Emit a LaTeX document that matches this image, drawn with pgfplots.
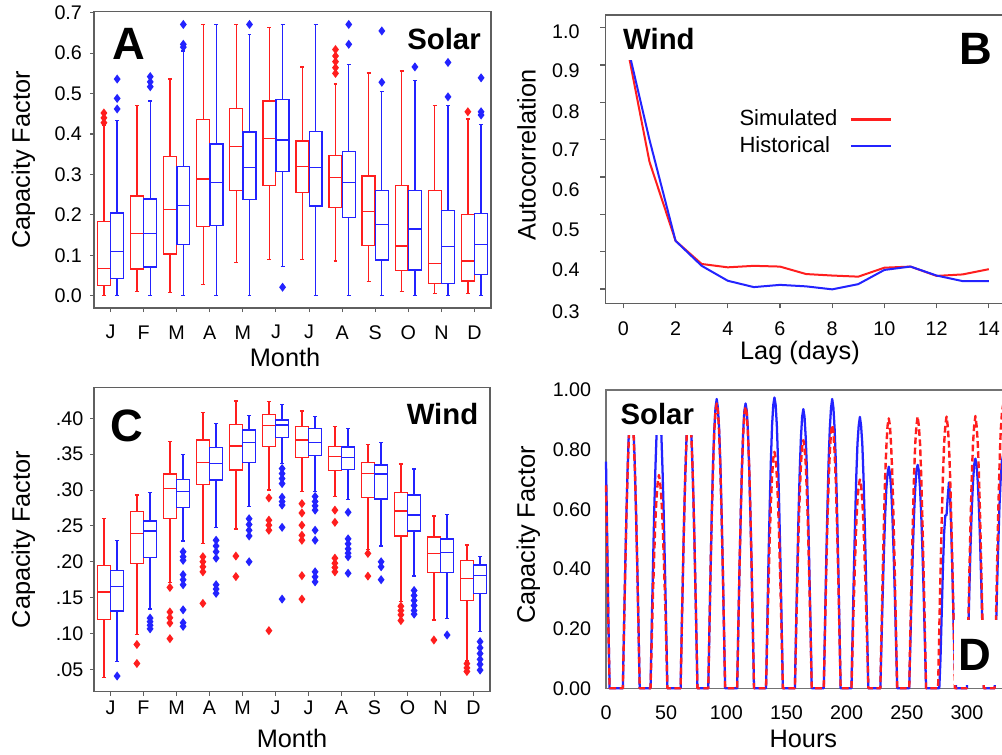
\documentclass[border=0pt]{standalone}
\usepackage{fontspec}
\setmainfont{Liberation Sans}
\usepackage{pgfplots}
\pgfplotsset{compat=1.18}
\usepgfplotslibrary{statistics}

\definecolor{simred}{RGB}{255,30,30}
\definecolor{histblue}{RGB}{35,35,255}
\definecolor{axgray}{RGB}{95,95,95}

\newcommand{\ticksize}{\fontsize{14.8}{16}\selectfont}
\newcommand{\labsize}{\fontsize{19}{22}\selectfont}
\newcommand{\tagfont}{\bfseries\fontsize{22}{24}\selectfont}
\newcommand{\bigtag}{\bfseries\fontsize{34}{36}\selectfont}
% tick label moved off its tick mark by a fixed amount
\newcommand{\lab}[2]{\raisebox{#1}[0pt][0pt]{#2}}
% one pre-computed box: colour, position, whiskers, quartiles, median; outliers follow
\newcommand{\bp}[7]{\addplot[#1,boxplot prepared={draw position=#2,lower whisker=#3,lower quartile=#4,median=#5,upper quartile=#6,upper whisker=#7}] coordinates}

\pgfplotsset{
  panel/.style={scale only axis, anchor=north west,
    axis line style={axgray,line width=0.9pt},
    tick style={axgray,line width=0.8pt}, tick align=outside, major tick length=3pt,
    xtick pos=left, ytick pos=left,
    tick label style={font=\ticksize}},
  monthbox/.style={xmin=0.5,xmax=12.5,xtick={1,...,12},
    xticklabels={J,F,M,A,M,J,J,A,S,O,N,D},
    boxplot/draw direction=y,
    boxplot/box extend=0.39, boxplot/whisker extend=0.12,
    boxplot/every box/.append style={line width=1pt},
    boxplot/every whisker/.append style={line width=1pt},
    boxplot/every median/.append style={line width=1pt},
    every axis plot/.append style={line width=1pt, mark=diamond*, mark size=2.6pt, mark options={solid}},
    xlabel={Month}, ylabel={Capacity Factor}},
}

\begin{document}
\begin{tikzpicture}
\useasboundingbox (0,0) rectangle (751.5pt,-565.5pt);
\clip (0,0) rectangle (751.5pt,-565.5pt);

%% ---------------- A: monthly solar capacity factor ----------------
\begin{axis}[panel, monthbox, at={(70.5pt,-8.8pt)}, width=297.75pt, height=222.2pt,
  ymin=-0.0304, ymax=0.7025,
  ytick={0,0.1,0.2,0.3,0.4,0.5,0.6,0.7},
  yticklabels={0.0,0.1,0.2,0.3,0.4,0.5,0.6,0.7},
  xticklabel style={anchor=center, yshift=-15.2pt},
  yticklabel style={anchor=east, xshift=-2.5pt},
  every axis x label/.style={at={(rel axis cs:0.5,0)}, anchor=center, font=\labsize, xshift=-5.6pt, yshift=-37pt},
  every axis y label/.style={at={(rel axis cs:0,0.5)}, anchor=center, font=\labsize, xshift=-53pt, rotate=90}]
% simulated
\bp{simred}{0.8}{0}{0.025}{0.068}{0.183}{0.422} {(0,0.452)(0,0.440)(0,0.428)};
\bp{simred}{1.8}{0.010}{0.066}{0.154}{0.247}{0.470} {};
\bp{simred}{2.8}{0.008}{0.103}{0.214}{0.344}{0.536} {};
\bp{simred}{3.8}{0.028}{0.171}{0.289}{0.436}{0.671} {};
\bp{simred}{4.8}{0.082}{0.261}{0.369}{0.463}{0.671} {};
\bp{simred}{5.8}{0.090}{0.273}{0.389}{0.482}{0.664} {};
\bp{simred}{6.8}{0.090}{0.255}{0.320}{0.383}{0.566} {};
\bp{simred}{7.8}{0.086}{0.219}{0.292}{0.347}{0.524} {(0,0.609)(0,0.593)(0,0.579)(0,0.564)(0,0.550)};
\bp{simred}{8.8}{0.035}{0.124}{0.208}{0.296}{0.551} {};
\bp{simred}{9.8}{0.010}{0.062}{0.123}{0.273}{0.556} {};
\bp{simred}{10.8}{0.005}{0.030}{0.080}{0.261}{0.470} {};
\bp{simred}{11.8}{0.005}{0.036}{0.086}{0.201}{0.437} {(0,0.455)};
% historical
\bp{histblue}{1.2}{0}{0.043}{0.109}{0.205}{0.434} {(0,0.536)(0,0.488)(0,0.462)};
\bp{histblue}{2.2}{0}{0.071}{0.154}{0.239}{0.482} {(0,0.542)(0,0.529)(0,0.517)};
\bp{histblue}{3.2}{0}{0.127}{0.223}{0.320}{0.605} {(0,0.615)(0,0.622)(0,0.671)};
\bp{histblue}{4.2}{0}{0.173}{0.280}{0.375}{0.671} {};
\bp{histblue}{5.2}{0}{0.238}{0.317}{0.405}{0.647} {(0,0.671)};
\bp{histblue}{6.2}{0.072}{0.307}{0.385}{0.486}{0.671} {(0,0.021)};
\bp{histblue}{7.2}{0}{0.222}{0.318}{0.407}{0.671} {};
\bp{histblue}{8.2}{0}{0.194}{0.280}{0.356}{0.572} {(0,0.622)(0,0.671)};
\bp{histblue}{9.2}{0}{0.088}{0.177}{0.261}{0.505} {(0,0.528)(0,0.655)};
\bp{histblue}{10.2}{0}{0.064}{0.165}{0.261}{0.533} {(0,0.566)};
\bp{histblue}{11.2}{0}{0.031}{0.122}{0.211}{0.470} {(0,0.492)(0,0.577)};
\bp{histblue}{12.2}{0}{0.053}{0.127}{0.204}{0.424} {(0,0.447)(0,0.455)(0,0.539)};
\fill[white] (axis cs:10.3,0.577) rectangle (axis cs:12.45,0.695);
\node[font=\bigtag] at (axis cs:1.54,0.6225) {A};
\node[font=\tagfont] at (axis cs:11.08,0.634) {Solar};
\end{axis}

%% ---------------- B: wind autocorrelation ----------------
\begin{axis}[panel, at={(454pt,-11.25pt)}, width=301.3pt, height=216.2pt,
  xmin=-0.69, xmax=14.7, ymin=0.2617, ymax=1.034,
  major tick length=3.75pt,
  xtick={0,2,4,6,8,10,12,14}, xticklabels={0,2,4,6,8,10,12,14},
  ytick={0.3,0.4,0.5,0.6,0.7,0.8,0.9,1.0},
  yticklabels={\lab{-22.3pt}{0.3},\lab{-18.6pt}{0.4},\lab{-16.55pt}{0.5},\lab{-14.8pt}{0.6},\lab{-12.8pt}{0.7},\lab{-12.05pt}{0.8},\lab{-9.05pt}{0.9},\lab{-7.8pt}{1.0}},
  xticklabel style={anchor=center, yshift=-15pt},
  yticklabel style={anchor=east, xshift=-12pt},
  xlabel={Lag (days)}, ylabel={Autocorrelation},
  every axis x label/.style={at={(rel axis cs:0.5,0)}, anchor=center, font=\labsize, xshift=-4.7pt, yshift=-37pt},
  every axis y label/.style={at={(rel axis cs:0,0.5)}, anchor=center, font=\labsize, xshift=-59pt, yshift=3.2pt, rotate=90},
  legend plot pos=right, legend cell align=left,
  legend image code/.code={\draw[#1, line width=2.2pt] (0pt,0pt) -- (30.5pt,0pt);},
  legend style={at={(axis cs:4.44,0.782)}, anchor=north west, draw=none, fill=none,
    inner sep=0pt, font=\fontsize{16.5}{18}\selectfont, column sep=9pt, row sep=5pt,
    nodes={inner sep=0pt, text height=12pt, text depth=3pt}}]
\addplot[simred, line width=1.5pt] coordinates {
 (0,1.0)(1,0.641)(2,0.429)(3,0.367)(4,0.358)(5,0.362)(6,0.360)(7,0.340)
 (8,0.336)(9,0.333)(10,0.357)(11,0.360)(12,0.335)(13,0.339)(14,0.353)};
\addlegendentry{Simulated}
\addplot[histblue, line width=1.5pt] coordinates {
 (0,1.0)(1,0.700)(2,0.429)(3,0.362)(4,0.322)(5,0.305)(6,0.311)(7,0.307)
 (8,0.299)(9,0.313)(10,0.351)(11,0.360)(12,0.336)(13,0.321)(14,0.321)};
\addlegendentry{Historical}
\fill[white] (axis cs:-0.6,0.913) rectangle (axis cs:3.2,1.025);
\node[font=\tagfont] at (axis cs:1.36,0.97) {Wind};
\node[font=\bigtag] at (axis cs:13.5,0.943) {B};
\end{axis}

%% ---------------- C: monthly wind capacity factor ----------------
\begin{axis}[panel, monthbox, at={(70.5pt,-290.5pt)}, width=297pt, height=228.3pt,
  ymin=0.0188, ymax=0.4432,
  ytick={0.05,0.10,0.15,0.20,0.25,0.30,0.35,0.40},
  yticklabels={.05,.10,.15,.20,.25,.30,.35,.40},
  xticklabel style={anchor=center, yshift=-9pt},
  yticklabel style={anchor=east, xshift=-1.5pt},
  every axis x label/.style={at={(rel axis cs:0.5,0)}, anchor=center, font=\labsize, yshift=-35pt},
  every axis y label/.style={at={(rel axis cs:0,0.5)}, anchor=center, font=\labsize, xshift=-53pt, rotate=90}]
% simulated
\bp{simred}{0.8}{0.0384}{0.1197}{0.158}{0.1945}{0.2605} {};
\bp{simred}{1.8}{0.0985}{0.198}{0.239}{0.270}{0.293} {(0,0.0847)(0,0.0582)};
\bp{simred}{2.8}{0.171}{0.2605}{0.3024}{0.3223}{0.3674} {(0,0.1643)(0,0.130)(0,0.122)(0,0.1146)(0,0.0928)};
\bp{simred}{3.8}{0.2257}{0.3079}{0.3386}{0.3698}{0.408} {(0,0.207)(0,0.200)(0,0.193)(0,0.186)(0,0.142)};
\bp{simred}{4.8}{0.2456}{0.3279}{0.3614}{0.3916}{0.424} {(0,0.208)(0,0.1794)};
\bp{simred}{5.8}{0.300}{0.3604}{0.3897}{0.4055}{0.4232} {(0,0.289)(0,0.258)(0,0.251)(0,0.244)(0,0.104)};
\bp{simred}{6.8}{0.2977}{0.3451}{0.3698}{0.3884}{0.410} {(0,0.281)(0,0.268)(0,0.251)(0,0.237)(0,0.230)(0,0.1806)(0,0.148)};
\bp{simred}{7.8}{0.2907}{0.327}{0.3465}{0.3605}{0.3884} {(0,0.272)(0,0.255)(0,0.205)(0,0.198)(0,0.192)(0,0.186)};
\bp{simred}{8.8}{0.2173}{0.2893}{0.3233}{0.3386}{0.3637} {(0,0.2116)(0,0.180)};
\bp{simred}{9.8}{0.1444}{0.2358}{0.2707}{0.2968}{0.3363} {(0,0.138)(0,0.132)(0,0.126)(0,0.118)};
\bp{simred}{10.8}{0.1187}{0.1847}{0.2116}{0.2344}{0.2637} {(0,0.0909)};
\bp{simred}{11.8}{0.0616}{0.1457}{0.1769}{0.2015}{0.2233} {(0,0.058)(0,0.052)(0,0.047)};
% historical
\bp{histblue}{1.2}{0.0607}{0.1315}{0.166}{0.1875}{0.230} {(0,0.0407)};
\bp{histblue}{2.2}{0.134}{0.2057}{0.243}{0.2568}{0.2968} {(0,0.1215)(0,0.1165)(0,0.1115)(0,0.1065)};
\bp{histblue}{3.2}{0.229}{0.2753}{0.2977}{0.315}{0.350} {(0,0.214)(0,0.207)(0,0.202)(0,0.182)(0,0.175)(0,0.168)(0,0.133)(0,0.115)(0,0.110)};
\bp{histblue}{4.2}{0.2475}{0.314}{0.3372}{0.3595}{0.393} {(0,0.230)(0,0.222)(0,0.214)(0,0.205)(0,0.168)(0,0.162)(0,0.156)};
\bp{histblue}{5.2}{0.2768}{0.3381}{0.3665}{0.3837}{0.4037} {(0,0.260)(0,0.252)(0,0.244)(0,0.236)(0,0.200)};
\bp{histblue}{6.2}{0.3372}{0.3735}{0.3907}{0.3977}{0.4195} {(0,0.330)(0,0.323)(0,0.316)(0,0.309)(0,0.290)(0,0.284)(0,0.279)(0,0.248)(0,0.148)};
\bp{histblue}{7.2}{0.2977}{0.3479}{0.3665}{0.386}{0.4023} {(0,0.291)(0,0.284)(0,0.278)(0,0.272)(0,0.244)(0,0.230)(0,0.186)(0,0.179)(0,0.172)};
\bp{histblue}{8.2}{0.287}{0.3288}{0.3456}{0.36}{0.386} {(0,0.269)(0,0.232)(0,0.225)(0,0.218)(0,0.212)(0,0.207)(0,0.184)};
\bp{histblue}{9.2}{0.222}{0.2875}{0.3224}{0.3349}{0.3665} {(0,0.200)(0,0.193)(0,0.175)};
\bp{histblue}{10.2}{0.1801}{0.2428}{0.2652}{0.2931}{0.3293} {(0,0.160)(0,0.153)(0,0.146)(0,0.139)(0,0.132)(0,0.127)};
\bp{histblue}{11.2}{0.121}{0.1847}{0.213}{0.2316}{0.266} {(0,0.0979)};
\bp{histblue}{12.2}{0.1025}{0.156}{0.1806}{0.1954}{0.2071} {(0,0.0886)(0,0.080)(0,0.072)(0,0.064)(0,0.057)(0,0.049)};
\node[font=\bigtag] at (axis cs:1.49,0.389) {C};
\node[font=\tagfont] at (axis cs:11.06,0.406) {Wind};
\end{axis}

%% ---------------- D: hourly solar capacity factor ----------------
\begin{axis}[panel, at={(454.5pt,-292.5pt)}, width=300.5pt, height=223.7pt,
  xmin=0, xmax=333, ymin=0, ymax=1, clip=false,
  major tick length=0pt, axis line style={black!55,line width=0.8pt},
  xtick={0,50,100,150,200,250,300}, xticklabels={0,50,100,150,200,250,300},
  ytick={0,0.2,0.4,0.6,0.8,1.0}, yticklabels={0.00,0.20,0.40,0.60,0.80,1.00},
  xticklabel style={anchor=center, yshift=-18.5pt},
  yticklabel style={anchor=east, xshift=-7.6pt},
  xlabel={Hours}, ylabel={Capacity Factor},
  every axis x label/.style={at={(rel axis cs:0.5,0)}, anchor=center, font=\labsize, xshift=-2.25pt, yshift=-38.3pt},
  every axis y label/.style={at={(rel axis cs:0,0.5)}, anchor=center, font=\labsize, xshift=-58.3pt, yshift=3.2pt, rotate=90}]
% historical
\addplot[histblue, line width=1.7pt, line join=round] coordinates {
 (0,0.76)(1,0.50)(2,0.22)(3,0)
 (14,0)(15,0.21)(16,0.41)(17,0.59)(18,0.74)(19,0.86)(20,0.92)(21,0.95)(22,0.92)(23,0.86)(24,0.74)(25,0.59)(26,0.41)(27,0.21)(28,0)
 (37,0)(38,0.21)(39,0.40)(40,0.58)(41,0.73)(42,0.85)(43,0.91)(44,0.94)(45,0.91)(46,0.85)(47,0.73)(48,0.58)(49,0.40)(50,0.21)(51,0)
 (62,0)(63,0.21)(64,0.40)(65,0.58)(66,0.73)(67,0.85)(68,0.91)(69,0.94)(70,0.91)(71,0.85)(72,0.73)(73,0.58)(74,0.40)(75,0.21)(76,0)
 (85,0)(86,0.21)(87,0.42)(88,0.60)(89,0.76)(90,0.87)(91,0.94)(92,0.97)(93,0.94)(94,0.87)(95,0.76)(96,0.60)(97,0.42)(98,0.21)(99,0)
 (109,0)(110,0.21)(111,0.41)(112,0.59)(113,0.74)(114,0.86)(115,0.93)(116,0.955)(117,0.93)(118,0.86)(119,0.74)(120,0.59)(121,0.41)(122,0.21)(123,0)
 (133,0)(134,0.21)(135,0.42)(136,0.60)(137,0.76)(138,0.88)(139,0.95)(140,0.975)(141,0.95)(142,0.88)(143,0.76)(144,0.60)(145,0.42)(146,0.21)(147,0)
 (157,0)(158,0.21)(159,0.40)(160,0.58)(161,0.73)(162,0.84)(163,0.91)(164,0.936)(165,0.91)(166,0.84)(167,0.73)(168,0.58)(169,0.40)(170,0.21)(171,0)
 (181,0)(182,0.21)(183,0.42)(184,0.60)(185,0.76)(186,0.87)(187,0.94)(188,0.97)(189,0.94)(190,0.87)(191,0.76)(192,0.60)(193,0.42)(194,0.21)(195,0)
 (204,0)(205,0.20)(206,0.39)(207,0.56)(208,0.71)(209,0.82)(210,0.88)(211,0.91)(212,0.88)(213,0.82)(214,0.71)(215,0.56)(216,0.39)(217,0.20)(218,0)
 (228,0)(229,0.16)(230,0.32)(231,0.46)(232,0.58)(233,0.67)(234,0.72)(235,0.743)(236,0.72)(237,0.67)(238,0.58)(239,0.46)(240,0.32)(241,0.16)(242,0)
 (252,0)(253,0.16)(254,0.32)(255,0.46)(256,0.58)(257,0.67)(258,0.73)(259,0.749)(260,0.73)(261,0.67)(262,0.58)(263,0.46)(264,0.32)(265,0.16)(266,0)
 (277,0)(278,0.10)(279,0.25)(280,0.40)(281,0.52)(282,0.58)(283,0.58)(284,0.64)(285,0.69)(286,0.64)(287,0.52)(288,0.37)(289,0.20)(290,0.06)(291,0)
 (300,0)(301,0.17)(302,0.33)(303,0.48)(304,0.60)(305,0.69)(306,0.75)(307,0.77)(308,0.75)(309,0.69)(310,0.60)(311,0.48)(312,0.33)(313,0.17)(314,0)
 (323,0)(324,0.17)(325,0.34)(326,0.48)(327,0.61)(328,0.70)(329,0.76)(330,0.78)(331,0.76)(332,0.70)(333,0.61)(334,0.48)(335,0.34)(336,0.17)(337,0)};
% simulated
\addplot[simred, line width=1.8pt, dash pattern=on 5pt off 2.6pt, line join=round] coordinates {
 (0,0.68)(1,0.45)(2,0.20)(3,0)
 (14,0)(15,0.20)(16,0.40)(17,0.58)(18,0.73)(19,0.84)(20,0.90)(21,0.93)(22,0.90)(23,0.84)(24,0.73)(25,0.58)(26,0.40)(27,0.20)(28,0)
 (37,0)(38,0.16)(39,0.31)(40,0.44)(41,0.56)(42,0.64)(43,0.69)(44,0.715)(45,0.69)(46,0.64)(47,0.56)(48,0.44)(49,0.31)(50,0.16)(51,0)
 (62,0)(63,0.20)(64,0.40)(65,0.58)(66,0.73)(67,0.84)(68,0.90)(69,0.93)(70,0.90)(71,0.84)(72,0.73)(73,0.58)(74,0.40)(75,0.20)(76,0)
 (85,0)(86,0.21)(87,0.41)(88,0.59)(89,0.74)(90,0.86)(91,0.93)(92,0.955)(93,0.93)(94,0.86)(95,0.74)(96,0.59)(97,0.41)(98,0.21)(99,0)
 (109,0)(110,0.21)(111,0.41)(112,0.59)(113,0.74)(114,0.85)(115,0.92)(116,0.944)(117,0.92)(118,0.85)(119,0.74)(120,0.59)(121,0.41)(122,0.21)(123,0)
 (133,0)(134,0.17)(135,0.34)(136,0.49)(137,0.62)(138,0.71)(139,0.77)(140,0.793)(141,0.77)(142,0.71)(143,0.62)(144,0.49)(145,0.34)(146,0.17)(147,0)
 (157,0)(158,0.18)(159,0.36)(160,0.52)(161,0.65)(162,0.75)(163,0.81)(164,0.832)(165,0.81)(166,0.75)(167,0.65)(168,0.52)(169,0.36)(170,0.18)(171,0)
 (181,0)(182,0.19)(183,0.38)(184,0.55)(185,0.69)(186,0.79)(187,0.86)(188,0.883)(189,0.86)(190,0.79)(191,0.69)(192,0.55)(193,0.38)(194,0.19)(195,0)
 (204,0)(205,0.15)(206,0.30)(207,0.43)(208,0.55)(209,0.63)(210,0.68)(211,0.70)(212,0.68)(213,0.63)(214,0.55)(215,0.43)(216,0.30)(217,0.15)(218,0)
 (228,0)(229,0.20)(230,0.39)(231,0.56)(232,0.71)(233,0.81)(234,0.88)(235,0.905)(236,0.88)(237,0.81)(238,0.71)(239,0.56)(240,0.39)(241,0.20)(242,0)
 (252,0)(253,0.20)(254,0.39)(255,0.56)(256,0.71)(257,0.82)(258,0.88)(259,0.911)(260,0.88)(261,0.82)(262,0.71)(263,0.56)(264,0.39)(265,0.20)(266,0)
 (276,0)(277,0.20)(278,0.39)(279,0.56)(280,0.71)(281,0.82)(282,0.88)(283,0.911)(284,0.88)(285,0.82)(286,0.71)(287,0.56)(288,0.39)(289,0.20)(290,0)
 (300,0)(301,0.20)(302,0.39)(303,0.56)(304,0.71)(305,0.82)(306,0.88)(307,0.913)(308,0.88)(309,0.82)(310,0.71)(311,0.56)(312,0.39)(313,0.20)(314,0)
 (323,0)(324,0.21)(325,0.41)(326,0.59)(327,0.74)(328,0.86)(329,0.92)(330,0.95)(331,0.92)(332,0.86)(333,0.74)(334,0.59)(335,0.41)(336,0.21)(337,0)};
\fill[white] (axis cs:1,0.849) rectangle (axis cs:80,0.993);
\fill[white] (axis cs:289,0.012) rectangle (axis cs:345,0.229);
\node[font=\tagfont] at (axis cs:42.6,0.92) {Solar};
\node[font=\bigtag] at (axis cs:306.8,0.112) {D};
\end{axis}
\end{tikzpicture}
\end{document}
